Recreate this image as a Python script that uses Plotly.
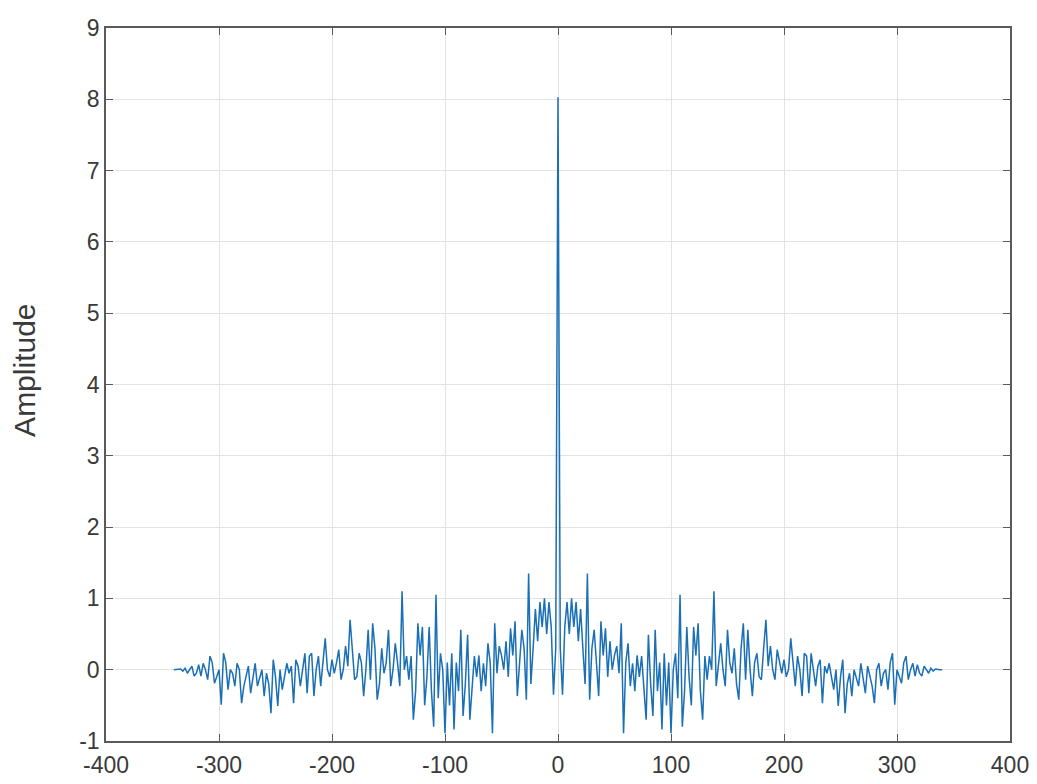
import plotly.graph_objects as go

# Lag axis (right half, step 2); the chart is symmetric about 0
lag_right = list(range(0, 342, 2))
amp_right = [
    8.03, 0.30, -0.35, 0.60, 0.95, 0.50, 1.00, 0.60, 0.95, 0.40,
    0.85, 0.30, -0.20, 1.35, -0.42, 0.30, 0.56, 0.10, -0.37, 0.68,
    0.20, 0.58, -0.10, 0.40, 0.00, 0.20, 0.33, -0.05, 0.65, -0.89,
    0.10, 0.37, -0.23, 0.09, -0.30, 0.20, -0.10, 0.19, -0.20, -0.70,
    0.49, -0.20, -0.65, 0.56, -0.30, 0.10, -0.84, 0.23, -0.50, 0.10,
    -0.89, 0.00, 0.23, -0.40, 1.05, -0.80, -0.30, 0.60, -0.10, -0.50,
    0.60, 0.20, 0.65, -0.30, -0.70, 0.19, -0.14, 0.19, 0.00, 1.10,
    -0.23, 0.10, 0.37, 0.00, -0.23, 0.56, 0.10, -0.05, 0.30, -0.20,
    -0.42, 0.30, 0.65, -0.14, 0.56, 0.00, -0.37, 0.10, 0.23, -0.10,
    -0.14, 0.30, 0.70, 0.05, 0.33, 0.00, -0.14, 0.28, 0.10, -0.05,
    0.14, -0.10, 0.00, 0.44, 0.10, -0.23, 0.19, 0.00, -0.37, 0.23,
    0.19, -0.33, 0.23, 0.00, -0.23, 0.05, 0.14, -0.47, 0.05, -0.05,
    0.09, -0.10, -0.28, 0.00, -0.51, -0.10, 0.14, -0.61, -0.20, -0.05,
    -0.37, 0.00, -0.10, -0.23, 0.09, -0.10, -0.33, 0.05, -0.10, -0.23,
    -0.47, 0.00, 0.09, -0.23, -0.05, 0.00, -0.28, 0.10, 0.23, -0.49,
    0.00, -0.10, -0.19, 0.10, 0.19, -0.14, 0.00, 0.09, -0.09, 0.07,
    -0.05, -0.09, 0.05, 0.00, -0.05, 0.02, -0.02, 0.01, 0.00, 0.00,
    0.00,
]

x_ticks = [-400, -300, -200, -100, 0, 100, 200, 300, 400]
y_ticks = [-1, 0, 1, 2, 3, 4, 5, 6, 7, 8, 9]

lags = [-v for v in reversed(lag_right[1:])] + lag_right
amps = list(reversed(amp_right[1:])) + amp_right

fig = go.Figure()
fig.add_trace(go.Scatter(
    x=lags, y=amps, mode="lines",
    line=dict(color="#1a6fb5", width=1.5),
    showlegend=False,
))

axis_common = dict(
    showline=True, linecolor="#5a5a5a", linewidth=1.5, mirror="ticks",
    ticks="inside", ticklen=7, tickcolor="#5a5a5a", tickwidth=1.2,
    showgrid=True, gridcolor="#e3e3e3", gridwidth=1, zeroline=False,
    automargin=False,
    tickfont=dict(family="Liberation Sans, Arial", size=23, color="#3a3a3a"),
)

fig.update_layout(
    width=1037, height=784,
    margin=dict(l=106, r=27, t=28, b=43),
    paper_bgcolor="white", plot_bgcolor="white",
    xaxis=dict(range=[-400, 400], tickvals=x_ticks,
               ticktext=[str(v) for v in x_ticks], ticklabelstandoff=3,
               **axis_common),
    yaxis=dict(range=[-1, 9], tickvals=y_ticks,
               ticktext=[str(v) for v in y_ticks], **axis_common),
    annotations=[dict(
        text="Amplitude", xref="paper", yref="paper",
        x=-0.09, y=0.52, xanchor="center", yanchor="middle",
        textangle=-90, showarrow=False,
        font=dict(family="Liberation Sans, Arial", size=30, color="#3a3a3a"),
    )],
)

fig.write_html("out.html")
